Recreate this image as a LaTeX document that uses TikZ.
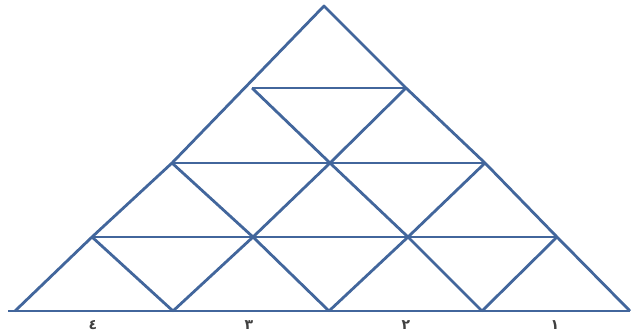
\documentclass[tikz,border=0pt]{standalone}
\usepackage{fontspec}
\newfontfamily\arabicfont[Script=Arabic]{DejaVu Sans}
\TeXXeTstate=1
\definecolor{gridblue}{RGB}{66,102,156}

\begin{document}
\begin{tikzpicture}[x=1pt, y=-1pt,
    edge/.style={draw=gridblue, line width=2.8pt, line join=round},
    num/.style={font=\arabicfont\bfseries\fontsize{14}{14}\selectfont, text=black!75, inner sep=0pt}
]
\useasboundingbox (0,0) rectangle (631,335);

% Lattice points, row by row from the apex
\coordinate (a)  at (324,6);
\coordinate (b1) at (252,88);  \coordinate (b2) at (406,88);
\coordinate (c1) at (172,163); \coordinate (c2) at (330,163); \coordinate (c3) at (485,163);
\coordinate (d1) at (92,237);  \coordinate (d2) at (253,237); \coordinate (d3) at (408,237); \coordinate (d4) at (557,237);
\coordinate (e0) at (8,311);
\coordinate (e1) at (15,311);  \coordinate (e2) at (173,311); \coordinate (e3) at (329,311);
\coordinate (e4) at (482,311); \coordinate (e5) at (630,311);

% Outer triangle
\draw[edge] (e1) -- (d1) -- (c1) -- (a) -- (b2) -- (c3) -- (d4) -- (e5);
\draw[edge] (e0) -- (e5);

% Horizontal rows
\draw[edge] (b1) -- (b2);
\draw[edge] (c1) -- (c3);
\draw[edge] (d1) -- (d4);

% Falling diagonals
\draw[edge] (b1) -- (c2) -- (d3) -- (e4);
\draw[edge] (c1) -- (d2) -- (e3);
\draw[edge] (d1) -- (e2);

% Rising diagonals
\draw[edge] (e2) -- (d2) -- (c2) -- (b2);
\draw[edge] (e3) -- (d3) -- (c3);
\draw[edge] (e4) -- (d4);

% Numbers under the base
\node[num] (n4) at (93,325)  {\beginR ٤\endR};
\node[num] (n3) at (249,325) {\beginR ٣\endR};
\node[num] (n2) at (406,325) {\beginR ٢\endR};
\node[num] (n1) at (555,325) {\beginR ١\endR};
\end{tikzpicture}
\end{document}
